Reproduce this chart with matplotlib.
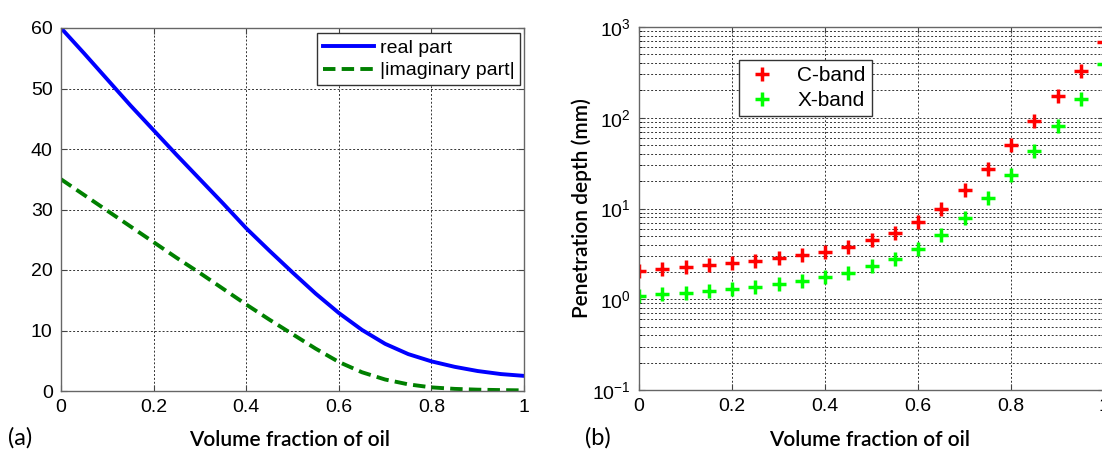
import numpy as np
import matplotlib.pyplot as plt
from matplotlib.ticker import LogLocator, NullFormatter

# left panel: permittivity vs oil fraction
frac = [0.0, 0.05, 0.1, 0.15, 0.2, 0.25, 0.3, 0.35, 0.4, 0.45, 0.5,
        0.55, 0.6, 0.65, 0.7, 0.75, 0.8, 0.85, 0.9, 0.95, 1.0]
real_part = [60.0, 55.8, 51.5, 47.2, 43.1, 39.0, 35.0, 31.0, 26.9, 23.2, 19.6,
             16.1, 12.9, 10.1, 7.8, 6.1, 4.9, 4.0, 3.3, 2.8, 2.5]
imag_part = [35.0, 32.4, 29.8, 27.2, 24.6, 22.0, 19.5, 16.9, 14.3, 11.8, 9.4,
             7.0, 4.8, 3.1, 1.9, 1.1, 0.6, 0.35, 0.22, 0.15, 0.1]

# right panel: penetration depth (mm)
c_band = [2.05, 2.18, 2.27, 2.39, 2.49, 2.66, 2.85, 3.05, 3.32, 3.80, 4.50,
          5.33, 7.10, 9.95, 16.0, 27.5, 50.0, 92.7, 173.0, 327.0, 687.0]
x_band = [1.08, 1.13, 1.16, 1.24, 1.30, 1.38, 1.49, 1.58, 1.75, 1.97, 2.33,
          2.78, 3.61, 5.11, 7.86, 12.9, 23.4, 42.6, 81.0, 162.0, 387.0]

W, H = 1102, 454
fig = plt.figure(figsize=(W / 100, H / 100), dpi=100)
plt.rcParams["font.family"] = ["Liberation Sans", "DejaVu Sans"]

grid_kw = dict(color="#333333", linestyle=(0, (2, 2)), linewidth=0.7)
spine_col = "#666666"

ax1 = fig.add_axes([61 / W, 1 - 391 / H, 463 / W, 363 / H])
ax1.plot(frac, real_part, color="#0000ff", lw=2.8, label="real part")
ax1.plot(frac, imag_part, color="#008000", lw=2.8, linestyle=(0, (3.2, 1.6)),
         label="|imaginary part|")
ax1.set_xlim(0, 1)
ax1.set_ylim(0, 60)
ax1.set_xticks([0, 0.2, 0.4, 0.6, 0.8, 1])
ax1.set_xticklabels(["0", "0.2", "0.4", "0.6", "0.8", "1"])
ax1.set_yticks(range(0, 61, 10))
ax1.grid(True, **grid_kw)
leg1 = ax1.legend(loc="upper right", bbox_to_anchor=(0.992, 0.985), fontsize=14,
                  handlelength=2.6, handletextpad=0.3, borderpad=0.3,
                  labelspacing=0.25, fancybox=False, framealpha=1,
                  edgecolor="#333333", borderaxespad=0)
leg1.get_frame().set_linewidth(1.0)

ax2 = fig.add_axes([639 / W, 1 - 390 / H, 465 / W, 363 / H])
ax2.set_yscale("log")
ax2.plot(frac, c_band, linestyle="none", marker="+", color="#ff0000",
         markersize=10, markeredgewidth=2.5, label="C-band")
ax2.plot(frac, x_band, linestyle="none", marker="+", color="#00ff00",
         markersize=10, markeredgewidth=2.5, label="X-band")
ax2.set_xlim(0, 1)
ax2.set_ylim(0.1, 1000)
ax2.set_xticks([0, 0.2, 0.4, 0.6, 0.8, 1])
ax2.set_xticklabels(["0", "0.2", "0.4", "0.6", "0.8", "1"])
ax2.yaxis.set_major_locator(LogLocator(base=10, numticks=10))
ax2.yaxis.set_minor_locator(LogLocator(base=10, subs=np.arange(2, 10), numticks=20))
ax2.yaxis.set_minor_formatter(NullFormatter())
ax2.grid(True, which="major", **grid_kw)
ax2.grid(True, which="minor", axis="y", **grid_kw)
leg2 = ax2.legend(loc="upper left", bbox_to_anchor=(0.215, 0.91), fontsize=15,
                  handlelength=1.6, handletextpad=0.9, borderpad=0.3,
                  labelspacing=0.3, fancybox=False, framealpha=1,
                  edgecolor="#333333", borderaxespad=0)
leg2.get_frame().set_linewidth(1.0)
ax2.set_ylabel("Penetration depth (mm)", fontsize=15, fontfamily="Lato",
               fontweight="semibold")
ax2.yaxis.set_label_coords(-47 / 465, 0.5)

for ax in (ax1, ax2):
    ax.tick_params(labelsize=14, direction="in", length=4, color="#444444", pad=6,
                   top=True, right=True)
    ax.tick_params(which="minor", direction="in", length=2, right=True)
    for sp in ax.spines.values():
        sp.set_color(spine_col)
        sp.set_linewidth(1.0)

fig.text(290 / W, 1 - 440 / H, "Volume fraction of oil", ha="center", va="center",
         fontsize=15, fontfamily="Lato", fontweight="semibold")
fig.text(870 / W, 1 - 440 / H, "Volume fraction of oil", ha="center", va="center",
         fontsize=15, fontfamily="Lato", fontweight="semibold")
fig.text(8 / W, 1 - 438 / H, "(a)", ha="left", va="center", fontsize=17,
         fontfamily="Lato")
fig.text(585 / W, 1 - 438 / H, "(b)", ha="left", va="center", fontsize=17,
         fontfamily="Lato")

fig.savefig("out.png", dpi=100)
